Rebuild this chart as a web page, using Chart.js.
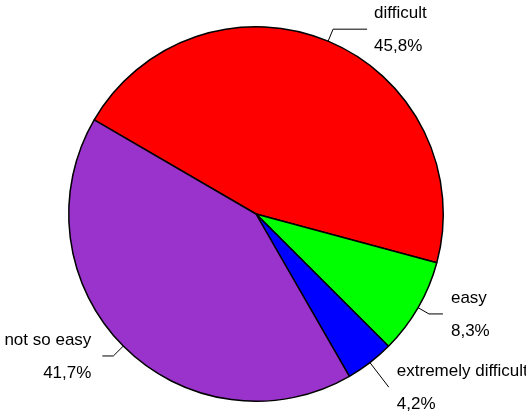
<!DOCTYPE html>
<html>
<head>
<meta charset="utf-8">
<script src="https://cdn.jsdelivr.net/npm/chart.js@4"></script>
<style>
html,body{margin:0;padding:0;background:#fff;}
canvas{display:block;}
</style>
</head>
<body>
<canvas id="c" width="526" height="414"></canvas>
<script>
const categories = ["difficult", "easy", "extremely difficult", "not so easy"];
const percentages = [45.8, 8.3, 4.2, 41.7];
const percentLabels = ["45,8%", "8,3%", "4,2%", "41,7%"];
const sliceColors = ["#FF0000", "#00FF00", "#0000FF", "#9933CC"];

// leader line layout per label (elbow length along radius, horizontal length, text gap)
const leaderStyle = [
  { elbow: 13, horiz: 34, gap: 7 },
  { elbow: 12.5, horiz: 14, gap: 8 },
  { elbow: 31, horiz: 0, gap: 8 },
  { elbow: 14, horiz: 11, gap: 11 }
];

const labelPlugin = {
  id: 'outsideLabels',
  afterDatasetsDraw(chart) {
    const ctx = chart.ctx;
    const meta = chart.getDatasetMeta(0);
    ctx.save();
    ctx.font = '17px "Liberation Sans", Arial, sans-serif';
    ctx.fillStyle = '#000';
    ctx.strokeStyle = '#000';
    ctx.lineWidth = 1;
    meta.data.forEach((arc, i) => {
      const p = arc.getProps(['x', 'y', 'startAngle', 'endAngle', 'outerRadius'], true);
      const mid = (p.startAngle + p.endAngle) / 2;
      const cx = Math.cos(mid), cy = Math.sin(mid);
      const st = leaderStyle[i];
      const ex = p.x + p.outerRadius * cx, ey = p.y + p.outerRadius * cy;
      const bx = ex + st.elbow * cx, by = ey + st.elbow * cy;
      const right = cx >= 0;
      const hx = bx + (right ? st.horiz : -st.horiz);
      ctx.beginPath();
      ctx.moveTo(ex, ey);
      ctx.lineTo(bx, by);
      ctx.lineTo(hx, by);
      ctx.stroke();
      ctx.textBaseline = 'middle';
      ctx.textAlign = right ? 'left' : 'right';
      const tx = hx + (right ? st.gap : -st.gap);
      ctx.fillText(categories[i], tx, by - 16);
      ctx.fillText(percentLabels[i], tx, by + 17);
    });
    ctx.restore();
  }
};

new Chart(document.getElementById('c'), {
  type: 'pie',
  data: {
    labels: categories,
    datasets: [{
      data: percentages,
      backgroundColor: sliceColors,
      borderColor: '#000000',
      borderWidth: 1.5
    }]
  },
  options: {
    responsive: false,
    animation: false,
    devicePixelRatio: 1,
    rotation: -59.8,
    layout: { padding: { left: 68, right: 82, top: 26, bottom: 12 } },
    plugins: {
      legend: { display: false },
      tooltip: { enabled: false }
    }
  },
  plugins: [labelPlugin]
});
</script>
</body>
</html>
